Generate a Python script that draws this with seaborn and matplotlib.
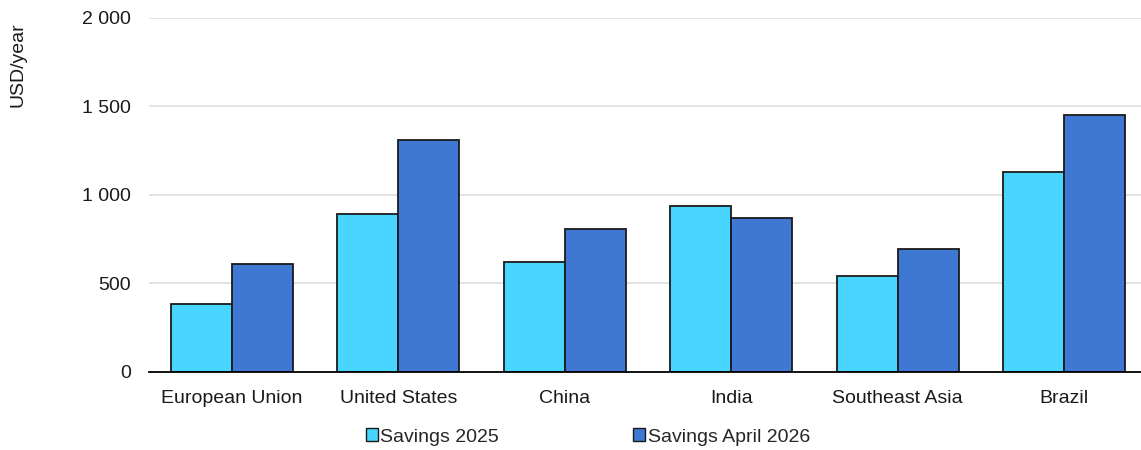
import matplotlib
matplotlib.use("Agg")
import matplotlib.pyplot as plt
from matplotlib.ticker import FuncFormatter
from matplotlib.patches import Patch
import seaborn as sns
import pandas as pd

regions = ["European Union", "United States", "China", "India", "Southeast Asia", "Brazil"]
savings_2025 = [380, 891, 619, 938, 538, 1128]
savings_apr_2026 = [608, 1308, 808, 866, 693, 1452]
series_names = ["Savings 2025", "Savings April 2026"]
y_ticks = [0, 500, 1000, 1500, 2000]

colors = ["#48D5FF", "#3F78D3"]

df = pd.DataFrame({
    "region": regions * 2,
    "value": savings_2025 + savings_apr_2026,
    "series": [series_names[0]] * len(regions) + [series_names[1]] * len(regions),
})

sns.set_theme(style="white")
plt.rcParams["font.family"] = ["Liberation Sans", "DejaVu Sans"]

W, H = 1141, 450
fig = plt.figure(figsize=(W / 100, H / 100), dpi=100)
ax = fig.add_axes([148.8 / W, (H - 371.5) / H, 998.4 / W, 353.6 / H])

sns.barplot(data=df, x="region", y="value", hue="series", order=regions,
            hue_order=series_names, palette=colors, width=0.733, gap=0,
            edgecolor="#1a1a1a", linewidth=1.3, saturation=1, ax=ax,
            legend=False, zorder=3)

ax.set_xlim(-0.5, len(regions) - 0.5)
ax.set_ylim(0, 2000)
ax.set_yticks(y_ticks)
ax.yaxis.set_major_formatter(FuncFormatter(lambda v, p: f"{int(v):,}".replace(",", " ")))
ax.grid(axis="y", color="#e0e0e0", linewidth=1.3, zorder=0)
ax.set_axisbelow(True)
for s in ["top", "right", "left"]:
    ax.spines[s].set_visible(False)
ax.spines["bottom"].set_color("#000000")
ax.spines["bottom"].set_linewidth(1.3)
ax.spines["bottom"].set_zorder(5)
ax.tick_params(axis="both", length=0, labelsize=14, colors="#1a1a1a")
ax.tick_params(axis="y", pad=13)
ax.tick_params(axis="x", pad=13.5)
ax.set_xlabel("")
ax.set_ylabel("")

fig.text(18 / W, 1 - 65 / H, "USD/year", rotation=90, ha="center", va="center",
         fontsize=14, color="#1a1a1a")

handles = [Patch(facecolor=c, edgecolor="#1a1a1a", linewidth=1.0) for c in colors]
fig.legend(handles, series_names, loc="center", bbox_to_anchor=(588 / W, 1 - 437 / H),
           ncol=2, frameon=False, fontsize=14, handlelength=0.6, handleheight=0.6,
           handletextpad=0.15, columnspacing=6.9, borderaxespad=0, borderpad=0)

fig.savefig("out.png", dpi=100)
